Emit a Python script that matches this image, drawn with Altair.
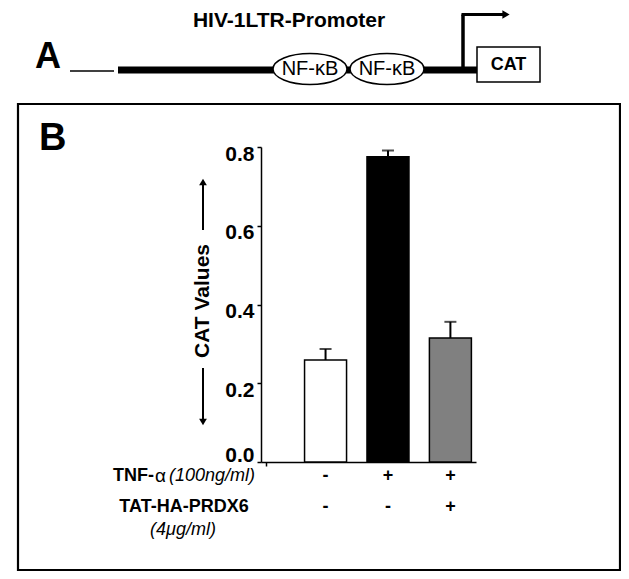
import altair as alt
import pandas as pd

FONT = "Liberation Sans"

# ---- data ----
conditions = ["Control", "TNF-α", "TNF-α + TAT-HA-PRDX6"]
positions = [1, 2, 3]
cat_values = [0.259, 0.775, 0.315]
cat_errors = [0.028, 0.016, 0.041]
tnf_row = ["-", "+", "+"]
prdx6_row = ["-", "-", "+"]
bar_colors = ["white", "black", "#808080"]
y_ticks = [0.0, 0.2, 0.4, 0.6, 0.8]

df = pd.DataFrame({
    "cond": conditions,
    "pos": positions,
    "val": cat_values,
    "upper": [v + e for v, e in zip(cat_values, cat_errors)],
    "tnf": tnf_row,
    "prdx6": prdx6_row,
})

one = pd.DataFrame({"k": [0]})

xscale = alt.Scale(domain=[0.046, 3.33], nice=False, zero=False)
yscale = alt.Scale(domain=[0, 0.8], nice=False)


def txt(text, x, y, size, weight="normal", style="normal", align="center",
        baseline="middle", angle=0):
    return alt.Chart(pd.DataFrame({"t": [text]})).mark_text(
        font=FONT, fontSize=size, fontWeight=weight, fontStyle=style,
        align=align, baseline=baseline, angle=angle, color="black"
    ).encode(x=alt.value(x), y=alt.value(y), text="t:N")


def line(x1, y1, x2, y2, w):
    return alt.Chart(one).mark_rule(strokeWidth=w, color="black").encode(
        x=alt.value(x1), x2=alt.value(x2), y=alt.value(y1), y2=alt.value(y2))


def tri(shape, x, y, size):
    return alt.Chart(one).mark_point(shape=shape, filled=True, color="black",
                                     size=size, opacity=1).encode(
        x=alt.value(x), y=alt.value(y))


ELLIPSE = "M-1,0A1,0.42,0,1,0,1,0A1,0.42,0,1,0,-1,0Z"


def ellipse(x, y):
    return alt.Chart(one).mark_point(shape=ELLIPSE, filled=True, fill="white",
                                     stroke="black", strokeWidth=1.5,
                                     size=5476, opacity=1, fillOpacity=1).encode(
        x=alt.value(x), y=alt.value(y))


bars = alt.Chart(df).mark_bar(orient="vertical", size=42, stroke="black",
                              strokeWidth=1.5).encode(
    x=alt.X("pos:Q", scale=xscale,
            axis=alt.Axis(title=None, labels=False, ticks=True, values=[0.046],
                          tickSize=4, tickColor="black", tickWidth=1.5,
                          grid=False, domainColor="black", domainWidth=1.5)),
    y=alt.Y("val:Q", scale=yscale,
            axis=alt.Axis(title=None, values=y_ticks, format=".1f",
                          labelFont=FONT, labelFontSize=21, labelFontWeight="bold",
                          labelColor="black", labelPadding=3, labelFlush=False,
                          labelOverlap=False,
                          labelOffset=alt.condition("datum.value == 0",
                                                    alt.value(-7), alt.value(7)),
                          tickSize=4, tickColor="black",
                          tickWidth=1.5, grid=False, domainColor="black",
                          domainWidth=1.5)),
    color=alt.Color("cond:N", sort=conditions,
                    scale=alt.Scale(domain=conditions, range=bar_colors),
                    legend=None),
)

err = alt.Chart(df).mark_rule(strokeWidth=2, color="black").encode(
    x=alt.X("pos:Q", scale=xscale), y=alt.Y("val:Q", scale=yscale),
    y2="upper:Q")
caps = alt.Chart(df).mark_tick(orient="horizontal", size=12, thickness=2,
                               color="black").encode(
    x=alt.X("pos:Q", scale=xscale), y=alt.Y("upper:Q", scale=yscale))

tnf_marks = alt.Chart(df).mark_text(font=FONT, fontSize=18, fontWeight="bold",
                                    color="black").encode(
    x=alt.X("pos:Q", scale=xscale), y=alt.value(329), text="tnf:N")
prdx_marks = alt.Chart(df).mark_text(font=FONT, fontSize=18, fontWeight="bold",
                                     color="black").encode(
    x=alt.X("pos:Q", scale=xscale), y=alt.value(360), text="prdx6:N")

layers = [
    # panel B frame
    alt.Chart(one).mark_rect(fill=None, stroke="black", strokeWidth=2.2).encode(
        x=alt.value(-243), x2=alt.value(359), y=alt.value(-43), y2=alt.value(423)),
    bars, err, caps, tnf_marks, prdx_marks,
    # row labels
    txt("TNF-", -148, 329, 18, weight="bold", align="left"),
    txt("α", -106, 329, 19, align="left"),
    txt("(100ng/ml)", -92, 329, 18, style="italic", align="left"),
    txt("TAT-HA-PRDX6", -77, 360, 18, weight="bold"),
    txt("(4μg/ml)", -78, 383, 18, style="italic"),
    # y title with arrows
    txt("CAT Values", -58, 154, 21, weight="bold", angle=270),
    line(-58, 83, -58, 36, 2),
    tri("triangle-up", -58, 35, 60),
    line(-58, 221, -58, 274, 2),
    tri("triangle-down", -58, 275, 60),
    # panel letters
    txt("A", -226, -79, 36, weight="bold", align="left", baseline="alphabetic"),
    txt("B", -222, 3, 38, weight="bold", align="left", baseline="alphabetic"),
    # promoter diagram
    txt("HIV-1LTR-Promoter", 28, -126, 21, weight="bold"),
    line(-191, -76, -147, -76, 1.5),
    line(-143, -77, 216, -77, 7),
    ellipse(49, -78),
    ellipse(126, -78),
    txt("NF-κB", 49, -78, 20),
    txt("NF-κB", 126, -78, 20),
    alt.Chart(one).mark_rect(fill="white", stroke="black", strokeWidth=1.5).encode(
        x=alt.value(216), x2=alt.value(279), y=alt.value(-100), y2=alt.value(-65)),
    txt("CAT", 247.5, -82, 18, weight="bold"),
    line(202, -75, 202, -132.5, 3.5),
    line(200.5, -132.5, 243, -132.5, 3),
    tri("triangle-right", 245, -132.5, 70),
]

chart = alt.layer(*layers).properties(
    width=215, height=315,
    padding={"left": 253, "top": 139, "right": 145, "bottom": 109},
    autosize=alt.AutoSizeParams(type="none"),
    background="white",
).configure_view(stroke=None)

chart.save("out.html", embed_options={"renderer": "svg", "actions": False})
